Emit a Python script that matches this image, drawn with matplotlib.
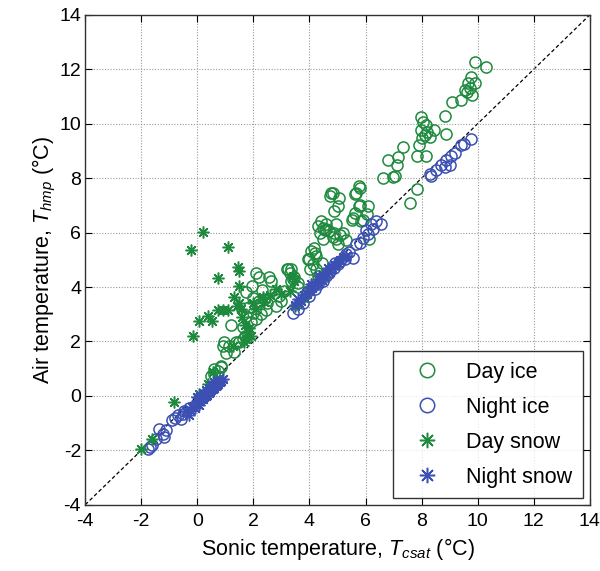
import matplotlib
matplotlib.use("Agg")
import matplotlib.pyplot as plt
import numpy as np

plt.rcParams['font.family'] = ['Liberation Sans', 'DejaVu Sans']
plt.rcParams['mathtext.fontset'] = 'custom'
plt.rcParams['mathtext.rm'] = 'Liberation Sans'
plt.rcParams['mathtext.it'] = 'Liberation Sans:italic'

# Day ice (green circles)
day_ice_x = [9.92, 10.31, 9.77, 9.65, 9.89, 9.54, 9.62, 9.81, 9.72, 9.42, 9.1, 8.82, 7.99, 8.05, 8.17, 7.99,
             8.46, 8.11, 8.29, 8.02, 8.86, 8.2, 7.33, 7.9, 7.83, 8.17, 7.15, 6.8, 7.12, 7.04, 6.98, 6.64, 7.85, 7.57,
             5.76, 5.67, 4.83, 4.74, 5.07, 5.01, 4.89, 5.75, 6.08, 5.61, 6.05, 5.52, 5.85, 4.42, 4.6, 4.48, 4.95,
             4.36, 4.89, 5.19, 4.71, 4.48, 4.95, 5.31, 4.83, 6.14, 5.01, 4.18, 4.06, 4.24, 4.0, 4.12, 3.94, 4.02,
             4.24, 3.19, 3.35, 3.4, 3.46, 3.35, 3.58, 5.55, 5.9, 5.79, 5.61, 5.79, 4.77, 4.55, 4.3, 4.45,
             3.23, 3.3, 2.1, 2.57, 2.63, 1.95, 1.74, 2.39, 2.2, 1.86, 1.98, 2.27, 1.74, 2.1, 1.62, 1.2, 1.38,
             0.9, 1.02, 1.32, 1.62, 1.7, 0.61, 0.85, 0.49, 2.93, 3.1, 2.5, 2.0, 2.8, 0.96, 1.14, 1.5, 0.85,
             0.73, 0.6, 2.3, 1.9, 2.45, 3.0, 4.6, 4.3, 5.1, 4.15, 3.6, 2.2]
day_ice_y = [12.28, 12.1, 11.73, 11.5, 11.49, 11.25, 11.18, 11.06, 11.3, 10.88, 10.79, 10.3, 10.23, 10.08, 9.96, 9.78,
             9.78, 9.6, 9.51, 9.47, 9.63, 9.7, 9.14, 9.23, 8.83, 8.83, 8.78, 8.66, 8.5, 8.07, 8.05, 8.01, 7.61, 7.1,
             7.7, 7.44, 7.44, 7.36, 7.28, 6.97, 6.79, 6.97, 6.97, 6.73, 6.67, 6.48, 6.42, 6.42, 6.3, 6.18, 6.3,
             6.0, 6.0, 6.0, 6.06, 5.78, 5.75, 5.73, 5.85, 5.78, 5.57, 5.26, 5.32, 5.14, 5.02, 4.84, 5.02, 4.65,
             4.65, 4.65, 4.65, 4.29, 4.35, 4.22, 4.16, 6.54, 6.48, 7.03, 7.4, 7.64, 7.46, 6.1, 4.4, 4.9,
             4.65, 4.5, 4.51, 4.35, 4.22, 4.02, 3.8, 3.55, 3.5, 3.25, 3.06, 3.0, 2.94, 2.82, 2.52, 2.61, 1.97,
             1.84, 1.58, 1.6, 2.09, 2.2, 0.99, 1.05, 0.74, 3.67, 3.85, 3.4, 3.6, 3.3, 1.97, 1.84, 1.97, 1.11,
             0.93, 0.8, 3.9, 2.7, 3.15, 3.5, 6.15, 6.25, 5.9, 5.45, 4.0, 4.35]

# Night ice (blue circles)
night_ice_x = [9.77, 9.5, 9.4, 9.18, 9.06, 8.88, 9.0, 8.7, 8.82, 8.52, 8.35, 8.3,
               6.56, 6.38, 6.26, 6.08, 5.9, 5.67, 5.55, 5.4, 5.25, 5.1, 4.89, 4.7, 4.48, 4.3, 4.18, 4.0, 3.76,
               3.58, 3.4, 6.0, 5.8, 5.0, 4.6, 4.9, 5.3, 6.2, 4.1, 3.9,
               -0.52, -0.58, -0.48, -1.12, -1.24, -1.36, -1.18, -1.48, -1.6, -1.69, -0.8, -0.9, -0.3, -0.7, -1.75]
night_ice_y = [9.44, 9.27, 9.2, 8.93, 8.8, 8.68, 8.5, 8.5, 8.41, 8.31, 8.07, 8.15,
               6.3, 6.42, 6.12, 5.93, 5.8, 5.57, 5.08, 5.3, 5.02, 4.95, 4.71, 4.5, 4.22, 4.1, 3.92, 3.67, 3.43,
               3.19, 3.06, 6.1, 5.6, 4.85, 4.4, 4.9, 5.2, 6.3, 4.0, 3.8,
               -0.66, -0.84, -0.55, -1.27, -1.39, -1.21, -1.51, -1.58, -1.82, -1.88, -0.8, -0.9, -0.45, -0.72, -1.95]

# Day snow (green asterisks)
day_snow_x = [0.21, -0.23, 1.08, 1.44, 1.48, 0.73, 1.5, 1.32, 1.5, 0.73, 1.08, 0.9, 0.37, 0.05, 0.52, -0.14,
              1.8, 1.74, 1.68, 2.33, 2.39, 2.81, 2.99, 3.29, 3.46, 3.4, 1.98, 1.56, 1.6, 1.26, 0.55, 0.37,
              -0.82, -1.6, -2.0, 1.85, 1.7, 2.1, 1.4, 1.9, 0.07, 3.6, 3.8, 4.0, 4.3, 4.5, 3.5, 2.6]
day_snow_y = [6.03, 5.35, 5.48, 4.75, 4.59, 4.32, 4.02, 3.65, 3.43, 3.15, 3.15, 3.15, 2.92, 2.74, 2.74, 2.19,
              2.33, 2.09, 1.97, 3.62, 3.45, 3.92, 3.74, 3.86, 4.22, 4.4, 3.43, 3.19, 2.9, 1.84, 0.87, 0.44,
              -0.23, -1.58, -1.94, 2.5, 2.6, 3.2, 3.3, 2.2, 0.07, 3.4, 3.6, 3.9, 4.3, 4.4, 3.3, 3.7]

# Night snow (blue asterisks)
night_snow_x = [-0.3, -0.25, -0.2, -0.1, -0.05, 0.0, 0.05, 0.1, 0.1, 0.15, 0.2, 0.2, 0.25, 0.3, 0.3, 0.35, 0.4,
                0.4, 0.45, 0.5, 0.5, 0.55, 0.6, 0.6, 0.65, 0.7, 0.7, 0.75, 0.8, 0.85, 0.9, 0.0, -0.4,
                3.5, 3.7, 3.8, 3.9, 4.0, 4.1, 4.2, 4.3, 4.4, 4.5, 4.6, 4.7, 4.8, 4.9, 5.0, 5.1, 5.2, 5.3,
                4.05, 4.35, 4.65, 3.6, 4.45]
night_snow_y = [-0.7, -0.5, -0.4, -0.45, -0.3, -0.2, -0.35, -0.2, 0.0, -0.1, -0.1, 0.1, -0.05, 0.0, 0.2, 0.05, 0.1,
                0.3, 0.15, 0.2, 0.4, 0.25, 0.3, 0.5, 0.35, 0.4, 0.55, 0.45, 0.5, 0.56, 0.62, -0.05, -0.55,
                3.35, 3.5, 3.7, 3.75, 3.85, 3.95, 4.1, 4.15, 4.3, 4.4, 4.5, 4.55, 4.7, 4.8, 4.9, 5.0, 5.1, 5.15,
                4.1, 4.4, 4.7, 3.55, 4.25]

ticks = [-4, -2, 0, 2, 4, 6, 8, 10, 12, 14]

green = '#1e8a3e'
blue = '#3c50b4'

fig = plt.figure(figsize=(6.0, 5.71), dpi=100)
ax = fig.add_axes([0.142, 0.116, 0.841, 0.858])

ax.plot([-4, 14], [-4, 14], linestyle=(0, (3, 2)), color='black', linewidth=0.9, zorder=1)

ms = 8
ax.plot(day_ice_x, day_ice_y, linestyle='none', marker='o', markersize=ms, markerfacecolor='none',
        markeredgecolor=green, markeredgewidth=1.1, label='Day ice', zorder=3)
ax.plot(night_ice_x, night_ice_y, linestyle='none', marker='o', markersize=ms, markerfacecolor='none',
        markeredgecolor=blue, markeredgewidth=1.1, label='Night ice', zorder=3)
ax.plot(day_snow_x, day_snow_y, linestyle='none', marker=(8, 2, 0), markersize=8.5, color=green,
        markeredgewidth=1.1, label='Day snow', zorder=4)
ax.plot(night_snow_x, night_snow_y, linestyle='none', marker=(8, 2, 0), markersize=8.5, color=blue,
        markeredgewidth=1.1, label='Night snow', zorder=4)

ax.set_xlim(-4, 14)
ax.set_ylim(-4, 14)
ax.set_xticks(ticks)
ax.set_yticks(ticks)
ax.set_xticklabels([str(t) for t in ticks])
ax.set_yticklabels([str(t) for t in ticks])
ax.tick_params(direction='in', top=True, right=True, labelsize=14, length=5, width=0.8)
ax.tick_params(axis='x', pad=6)
ax.tick_params(axis='y', pad=3)
ax.grid(True, linestyle=(0, (1, 1.5)), color='#999999', linewidth=0.8)
for s in ax.spines.values():
    s.set_linewidth(1.0)
    s.set_color('#333333')

ax.set_xlabel(r'Sonic temperature, $T_{csat}$ (°C)', fontsize=15.5, labelpad=4)
ax.set_ylabel(r'Air temperature, $T_{hmp}$ (°C)', fontsize=15.5, labelpad=1)

leg = ax.legend(loc='lower right', fontsize=15.5, frameon=True, fancybox=False, edgecolor='black',
                borderpad=0.5, labelspacing=0.65, handletextpad=0.8, borderaxespad=0.3,
                markerscale=1.3, handlelength=2.1)
leg.get_frame().set_linewidth(1.0)

fig.savefig('out.png', dpi=100)
